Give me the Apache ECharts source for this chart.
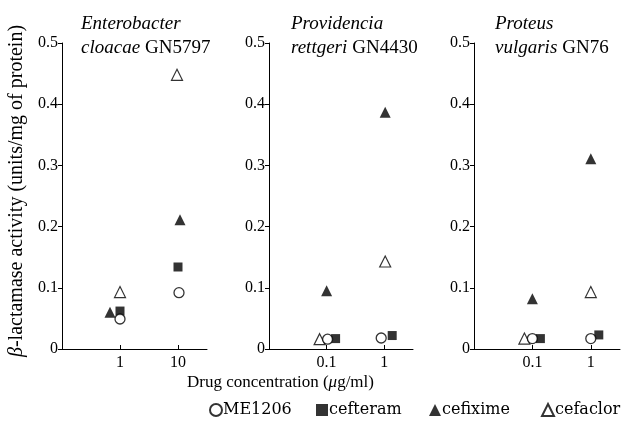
<!DOCTYPE html>
<html>
<head>
<meta charset="utf-8">
<script src="https://cdn.jsdelivr.net/npm/echarts@6/dist/echarts.min.js"></script>
<style>html,body{margin:0;padding:0;background:#fff;}#c{width:623px;height:423px;}</style>
</head>
<body>
<div id="c"></div>
<script>
// ---- data ----
const seriesNames = ['ME1206', 'cefteram', 'cefixime', 'cefaclor'];
const enterobacterTicks = ['1', '10'];
const providenciaTicks = ['0.1', '1'];
const proteusTicks = ['0.1', '1'];
const yTicks = [0, 0.1, 0.2, 0.3, 0.4, 0.5];

const enterobacterME1206 = [0.049, 0.092];
const enterobacterCefteram = [0.062, 0.134];
const enterobacterCefixime = [0.060, 0.211];
const enterobacterCefaclor = [0.093, 0.448];

const providenciaME1206 = [0.016, 0.018];
const providenciaCefteram = [0.017, 0.022];
const providenciaCefixime = [0.095, 0.387];
const providenciaCefaclor = [0.016, 0.143];

const proteusME1206 = [0.017, 0.017];
const proteusCefteram = [0.017, 0.023];
const proteusCefixime = [0.082, 0.311];
const proteusCefaclor = [0.017, 0.093];

// ---- styling ----
const FONT = '"Liberation Serif", "Times New Roman", serif';
const LEGEND_FONT = '"DejaVu Serif", serif';
const panels = [
  { ticks: enterobacterTicks, values: [enterobacterME1206, enterobacterCefteram, enterobacterCefixime, enterobacterCefaclor],
    jitter: [[0, 1], [0, 0], [-10, 2], [0, -1]], title: ['Enterobacter', 'cloacae', 'GN5797'], titleX: 76 },
  { ticks: providenciaTicks, values: [providenciaME1206, providenciaCefteram, providenciaCefixime, providenciaCefaclor],
    jitter: [[1, -3], [9, 8], [0, 1], [-7, 1]], title: ['Providencia', 'rettgeri', 'GN4430'], titleX: 286 },
  { ticks: proteusTicks, values: [proteusME1206, proteusCefteram, proteusCefixime, proteusCefaclor],
    jitter: [[0, 0], [8, 8], [0, 0], [-8, 0]], title: ['Proteus', 'vulgaris', 'GN76'], titleX: 490 }
];
const gridBoxes = [
  { left: 62, width: 145, top: 43, bottom: 74 },
  { left: 269, width: 144, top: 43, bottom: 74 },
  { left: 474, width: 146, top: 43, bottom: 74 }
];
const legendLefts = [209, 316, 429, 541];
const symbolStyles = [
  { symbol: 'circle', symbolSize: 10, itemStyle: { color: '#fff', borderColor: '#000', borderWidth: 1.3 } },
  { symbol: 'rect', symbolSize: 9, itemStyle: { color: '#000' } },
  { symbol: 'triangle', symbolSize: 11, itemStyle: { color: '#000' } },
  { symbol: 'triangle', symbolSize: 11, itemStyle: { color: '#fff', borderColor: '#000', borderWidth: 1.2 } }
];

const axisLine = { lineStyle: { color: '#000', width: 1 } };
const xAxis = panels.map((p, i) => ({
  type: 'value', gridIndex: i, min: 0, max: 2.5,
  axisLine: Object.assign({ onZero: false }, axisLine),
  axisTick: { show: true, inside: true, length: 4, customValues: [1, 2], lineStyle: { color: '#000' } },
  axisLabel: { customValues: [1, 2], formatter: v => p.ticks[Math.round(v) - 1] || '', color: '#000', fontFamily: FONT, fontSize: 16, margin: 6 },
  splitLine: { show: false }
}));
const yAxis = panels.map((p, i) => ({
  type: 'value', gridIndex: i, min: 0, max: 0.5, interval: 0.1,
  axisLine: Object.assign({ show: true }, axisLine),
  axisTick: { show: true, length: 4, lineStyle: { color: '#000' } },
  axisLabel: { formatter: v => (v === 0 ? '0' : v.toFixed(1)), color: '#000', fontFamily: FONT, fontSize: 16, margin: 4 },
  splitLine: { show: false }
}));

const series = [];
panels.forEach((p, gi) => {
  p.values.forEach((vals, si) => {
    series.push(Object.assign({
      name: seriesNames[si], type: 'scatter', xAxisIndex: gi, yAxisIndex: gi,
      data: vals.map((v, k) => ({ value: [k + 1, v], symbolOffset: [p.jitter[si][k], 0] })),
      z: si === 0 ? 5 : 3
    }, symbolStyles[si]));
  });
});

const title = panels.map(p => ({
  text: '{i|' + p.title[0] + '}\n{i|' + p.title[1] + '} {r|' + p.title[2] + '}',
  left: p.titleX, top: 7,
  textStyle: {
    fontWeight: 'normal',
    rich: {
      i: { fontFamily: FONT, fontStyle: 'italic', fontWeight: 'normal', fontSize: 19, color: '#000', lineHeight: 24 },
      r: { fontFamily: FONT, fontWeight: 'normal', fontSize: 19, color: '#000', lineHeight: 24 }
    }
  }
}));

const legend = seriesNames.map((n, i) => ({
  data: [n], left: legendLefts[i], top: 402, itemWidth: 12, itemHeight: 12, padding: 0,
  textStyle: { fontFamily: LEGEND_FONT, fontSize: 16, color: '#000', padding: [0, 0, 0, -4] }
}));

const chart = echarts.init(document.getElementById('c'), null, { renderer: 'canvas' });
chart.setOption({
  animation: false,
  backgroundColor: '#fff',
  title: title,
  grid: gridBoxes,
  xAxis: xAxis,
  yAxis: yAxis,
  legend: legend,
  graphic: [{
    type: 'text', x: 17, y: 191, rotation: Math.PI / 2,
    style: {
      text: '{b|β}-lactamase activity (units/mg of protein)', fill: '#000', font: '20px ' + FONT,
      align: 'center', verticalAlign: 'middle',
      rich: { b: { fontStyle: 'italic', fontFamily: FONT, fontSize: 20 } }
    }
  }, {
    type: 'text', left: 187, top: 374,
    style: {
      text: 'Drug concentration ({i|μ}g/ml)', fill: '#000', font: '17px ' + FONT,
      rich: { i: { fontStyle: 'italic', fontFamily: FONT, fontSize: 17 } }
    }
  }],
  series: series
});
</script>
</body>
</html>
